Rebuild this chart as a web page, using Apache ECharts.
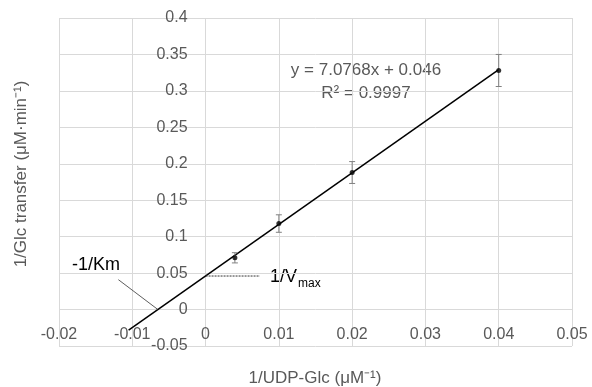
<!DOCTYPE html>
<html>
<head>
<meta charset="utf-8">
<script src="https://cdn.jsdelivr.net/npm/echarts@6/dist/echarts.min.js"></script>
<style>
  html, body { margin: 0; padding: 0; background: #fff; }
  #chart { width: 592px; height: 387px; }
</style>
</head>
<body>
<div id="chart"></div>
<script>
// Lineweaver-Burk data
const substrateInv = [0.004, 0.01, 0.02, 0.04]
const rateInv = [0.071, 0.118, 0.188, 0.328]
const errLow = [0.064, 0.106, 0.173, 0.306]
const errHigh = [0.078, 0.130, 0.203, 0.350]
// trendline y = 7.0768x + 0.046 (backward forecast to about -0.0105)
const trendX = [-0.0105, 0.04]
const trendY = [-0.0283, 0.3291]
// annotation leader lines
const kmLeaderX = [-0.0119, -0.0065]
const kmLeaderY = [0.041, 0]
const vmaxLeaderX = [0, 0.0074]
const vmaxLeaderY = [0.046, 0.046]

const gray = '#595959'
const font = 'Liberation Sans'
const grid = { left: 59, right: 20, top: 18, bottom: 41 }

const zip = (xs, ys) => xs.map((x, i) => [x, ys[i]])

let chart = echarts.init(document.getElementById('chart'))

let option = {
    animation: false,
    backgroundColor: '#fff',
    grid: grid,
    xAxis: {
        type: 'value', min: -0.02, max: 0.05, interval: 0.01,
        position: 'bottom', offset: 0,
        axisLine: { show: false, onZero: false },
        axisTick: { show: false },
        axisLabel: { color: gray, fontFamily: font, fontSize: 16, margin: 17 },
        splitLine: { lineStyle: { color: '#d9d9d9' } }
    },
    yAxis: {
        type: 'value', min: -0.05, max: 0.4, interval: 0.05,
        position: 'left', offset: 0,
        axisLine: { show: false, onZero: false },
        axisTick: { show: false },
        axisLabel: { color: gray, fontFamily: font, fontSize: 16, margin: 18 },
        splitLine: { lineStyle: { color: '#d9d9d9' } }
    },
    graphic: [
        { type: 'text', x: 315, y: 378, style: { text: '1/UDP-Glc (μM⁻¹)', fill: gray, font: '17px ' + font, align: 'center', verticalAlign: 'middle' } },
        { type: 'text', x: 21, y: 174, rotation: Math.PI / 2, style: { text: '1/Glc transfer (μM·min⁻¹)', fill: gray, font: '17px ' + font, align: 'center', verticalAlign: 'middle' } },
        { type: 'text', x: 366, y: 70, style: { text: 'y = 7.0768x + 0.046', fill: gray, font: '17px ' + font, align: 'center', verticalAlign: 'middle' } },
        { type: 'text', x: 366, y: 93, style: { text: 'R² = 0.9997', fill: gray, font: '17px ' + font, align: 'center', verticalAlign: 'middle' } },
        { type: 'text', x: 72, y: 265, style: { text: '-1/Km', fill: '#000', font: '18px ' + font, verticalAlign: 'middle' } },
        { type: 'text', x: 270, y: 277, style: { text: '1/V', fill: '#000', font: '18px ' + font, verticalAlign: 'middle' } },
        { type: 'text', x: 298, y: 284, style: { text: 'max', fill: '#000', font: '12px ' + font, verticalAlign: 'middle' } }
    ],
    series: [
        {
            type: 'line', data: zip(trendX, trendY), symbol: 'none',
            lineStyle: { color: '#000', width: 1.5 }, z: 3
        },
        {
            type: 'line', data: zip(kmLeaderX, kmLeaderY), symbol: 'none',
            lineStyle: { color: '#333', width: 0.8 }, z: 3
        },
        {
            type: 'line', data: zip(vmaxLeaderX, vmaxLeaderY), symbol: 'none',
            lineStyle: { color: '#333', width: 1, type: [2, 1] }, z: 3
        },
        {
            type: 'custom',
            data: substrateInv.map((x, i) => [x, errLow[i], errHigh[i]]),
            renderItem: (params, api) => {
                let lo = api.coord([api.value(0), api.value(1)])
                let hi = api.coord([api.value(0), api.value(2)])
                let w = 3
                let style = { stroke: '#808080', lineWidth: 1 }
                return {
                    type: 'group',
                    children: [
                        { type: 'line', shape: { x1: lo[0], y1: lo[1], x2: hi[0], y2: hi[1] }, style },
                        { type: 'line', shape: { x1: lo[0] - w, y1: lo[1], x2: lo[0] + w, y2: lo[1] }, style },
                        { type: 'line', shape: { x1: hi[0] - w, y1: hi[1], x2: hi[0] + w, y2: hi[1] }, style }
                    ]
                }
            },
            z: 4
        },
        {
            type: 'scatter', data: zip(substrateInv, rateInv), symbol: 'circle', symbolSize: 5,
            itemStyle: { color: '#000' }, z: 5
        }
    ]
}

chart.setOption(option)

// labels sit on the zero lines: shift both axes there
let zero = chart.convertToPixel({ gridIndex: 0 }, [0, 0])
let bottomEdge = 387 - grid.bottom
chart.setOption({
    xAxis: { offset: zero[1] - bottomEdge },
    yAxis: { offset: grid.left - zero[0] }
})
</script>
</body>
</html>
